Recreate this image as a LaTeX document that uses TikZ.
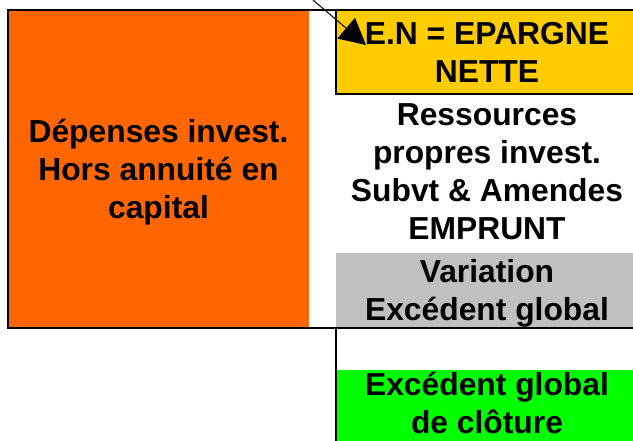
\documentclass[tikz,border=0pt]{standalone}
\usepackage{fontspec}
\setmainfont{Liberation Sans}
\usetikzlibrary{arrows.meta}
\definecolor{cOrange}{HTML}{FF6600}
\definecolor{cYellow}{HTML}{FFCC00}
\definecolor{cGray}{HTML}{C0C0C0}
\definecolor{cGreen}{HTML}{00FF00}
\tikzset{
  lbl/.style={font=\bfseries\fontsize{31.8}{38}\selectfont, align=center, inner sep=0pt, outer sep=0pt},
  frameline/.style={line width=2pt, black},
}
\begin{document}
\begin{tikzpicture}[x=1pt,y=-1pt]
\useasboundingbox (0,0) rectangle (633,440);
\clip (0,0) rectangle (633,440);
% orange box
\node[lbl, fill=cOrange, minimum width=301pt, minimum height=318pt] (dep) at (158.5,169) {};
\node[lbl] (deptxt) at (158.5,172) {Dépenses invest.\\Hors annuité en\\capital};
% yellow box
\node[lbl, fill=cYellow, draw=black, line width=2pt, minimum width=302pt, minimum height=84pt] (en) at (487,52) {E.N = EPARGNE\\NETTE};
% resources text
\node[lbl] (res) at (487,172) {Ressources\\propres invest.\\Subvt \& Amendes\\EMPRUNT};
% gray box
\node[lbl, fill=cGray, minimum width=302pt, minimum height=75pt] (var) at (487,290.5) {};
\node[lbl] (vartxt) at (487,293) {Variation\\Excédent global};
% green box
\node[lbl, fill=cGreen, minimum width=302pt, minimum height=74pt] (exc) at (487,407) {};
\node[lbl] (exctxt) at (487,403) {Excédent global\\de clôture};
% frame
\coordinate (ftr) at (640,10);
\coordinate (ftl) at (8,10);
\coordinate (fbl) at (8,328);
\coordinate (fbr) at (640,328);
\draw[frameline] (ftr) -- (ftl) -- (fbl) -- (fbr);
\coordinate (vtop) at (336,328);
\coordinate (vbot) at (336,445);
\draw[frameline] (vtop) -- (vbot);
% arrow
\coordinate (src) at (313,0);
\coordinate (tip) at (366,45);
\draw[line width=1pt, -{Triangle[length=26pt,width=27pt]}] (src) -- (tip);
\end{tikzpicture}
\end{document}
